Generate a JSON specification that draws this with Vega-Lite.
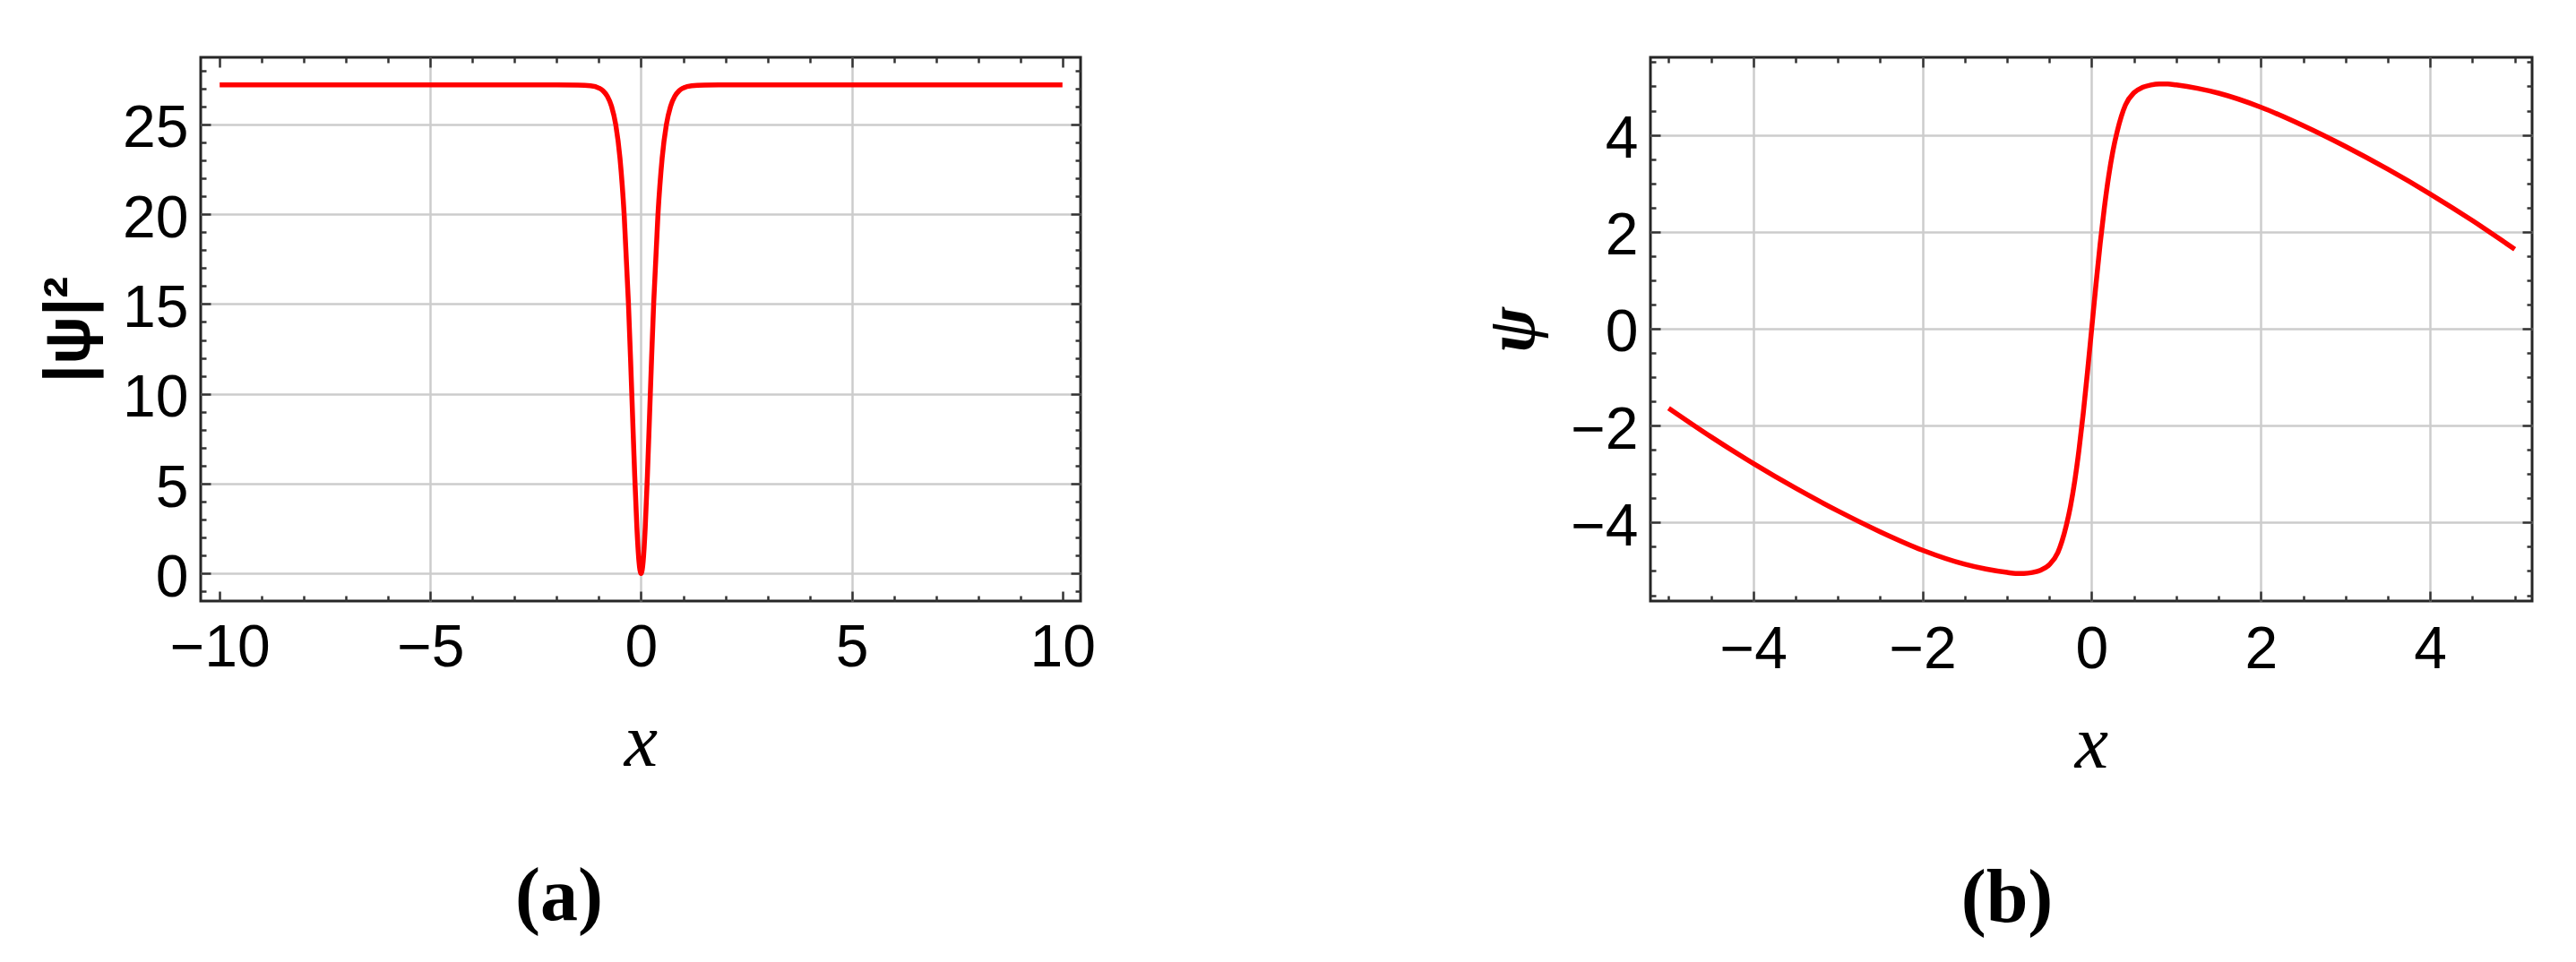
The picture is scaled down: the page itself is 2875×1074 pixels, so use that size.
{
  "$schema": "https://vega.github.io/schema/vega-lite/v6.json",
  "background": "white",
  "padding": {"left": 40, "top": 61, "right": 10, "bottom": 0},
  "spacing": 636,
  "bounds": "flush",
  "config": {
    "view": {"stroke": "#262626", "strokeWidth": 3},
    "axis": {
      "domain": false,
      "labelFont": "Liberation Sans",
      "labelFontSize": 66,
      "labelColor": "#000000",
      "tickColor": "#333333",
      "tickWidth": 2.5,
      "gridColor": "#cccccc",
      "gridWidth": 2.5,
      "labelOverlap": false,
      "labelFlush": false,
      "labelBound": false,
      "titleColor": "#000000"
    }
  },
  "hconcat": [
    {
      "width": 982,
      "height": 607,
      "title": {"text": "(a)", "orient": "bottom", "anchor": "middle", "frame": "group", "font": "Liberation Serif", "fontSize": 84, "fontWeight": "bold", "color": "#000000", "dx": -91, "offset": 90},
      "data": {"values": [
        {"x": -10, "y": 27.2}, {"x": -3, "y": 27.2}, {"x": -2, "y": 27.2}, {"x": -1.5, "y": 27.19}, {"x": -1.2, "y": 27.15},
        {"x": -1, "y": 27.02}, {"x": -0.9, "y": 26.86}, {"x": -0.8, "y": 26.56}, {"x": -0.7, "y": 26.0}, {"x": -0.6, "y": 24.97},
        {"x": -0.5, "y": 23.11}, {"x": -0.4, "y": 19.94}, {"x": -0.3, "y": 15.07}, {"x": -0.25, "y": 11.99}, {"x": -0.2, "y": 8.68},
        {"x": -0.15, "y": 5.42}, {"x": -0.1, "y": 2.61}, {"x": -0.05, "y": 0.68}, {"x": 0, "y": 0},
        {"x": 0.05, "y": 0.68}, {"x": 0.1, "y": 2.61}, {"x": 0.15, "y": 5.42}, {"x": 0.2, "y": 8.68}, {"x": 0.25, "y": 11.99},
        {"x": 0.3, "y": 15.07}, {"x": 0.4, "y": 19.94}, {"x": 0.5, "y": 23.11}, {"x": 0.6, "y": 24.97}, {"x": 0.7, "y": 26.0},
        {"x": 0.8, "y": 26.56}, {"x": 0.9, "y": 26.86}, {"x": 1, "y": 27.02}, {"x": 1.2, "y": 27.15}, {"x": 1.5, "y": 27.19},
        {"x": 2, "y": 27.2}, {"x": 3, "y": 27.2}, {"x": 10, "y": 27.2}
      ]},
      "layer": [
        {
          "mark": {"type": "line", "color": "#ff0000", "strokeWidth": 5.5, "interpolate": "monotone"},
          "encoding": {
            "x": {"field": "x", "type": "quantitative", "scale": {"domain": [-10.45, 10.43], "nice": false, "zero": false},
              "axis": {"orient": "bottom", "values": [-10, -5, 0, 5, 10], "format": "d", "ticks": false, "labelPadding": 20, "grid": true,
                "gridOpacity": {"condition": {"test": "abs(datum.value) === 10", "value": 0}, "value": 1},
                "title": "x", "titleFont": "Liberation Serif", "titleFontStyle": "italic", "titleFontWeight": "normal", "titleFontSize": 84, "titlePadding": 32}},
            "y": {"field": "y", "type": "quantitative", "scale": {"domain": [-1.53, 28.73], "nice": false, "zero": false},
              "axis": {"orient": "left", "values": [0, 5, 10, 15, 20, 25], "format": "d", "ticks": false, "labelPadding": 14, "labelOffset": 5, "grid": true,
                "title": "|ψ|²", "titleFont": "Liberation Sans", "titleFontWeight": "bold", "titleFontSize": 72, "titlePadding": 22}}
          }
        },
        {
          "mark": {"type": "line", "opacity": 0},
          "encoding": {
            "x": {"field": "x", "type": "quantitative", "scale": {"domain": [-10.45, 10.43], "nice": false, "zero": false},
              "axis": {"orient": "bottom", "values": [-10, -9, -8, -7, -6, -5, -4, -3, -2, -1, 0, 1, 2, 3, 4, 5, 6, 7, 8, 9, 10], "labels": false, "grid": false, "title": null,
                "tickSize": {"condition": {"test": "datum.value % 5 === 0", "value": -11}, "value": -6}}},
            "y": {"field": "y", "type": "quantitative", "scale": {"domain": [-1.53, 28.73], "nice": false, "zero": false},
              "axis": {"orient": "left", "values": [-1, 0, 1, 2, 3, 4, 5, 6, 7, 8, 9, 10, 11, 12, 13, 14, 15, 16, 17, 18, 19, 20, 21, 22, 23, 24, 25, 26, 27, 28], "labels": false, "grid": false, "title": null,
                "tickSize": {"condition": {"test": "datum.value % 5 === 0", "value": -11}, "value": -6}}}
          }
        },
        {
          "mark": {"type": "line", "opacity": 0},
          "encoding": {
            "x": {"field": "x", "type": "quantitative", "scale": {"domain": [-10.45, 10.43], "nice": false, "zero": false},
              "axis": {"orient": "top", "values": [-10, -9, -8, -7, -6, -5, -4, -3, -2, -1, 0, 1, 2, 3, 4, 5, 6, 7, 8, 9, 10], "labels": false, "grid": false, "title": null,
                "tickSize": {"condition": {"test": "datum.value % 5 === 0", "value": -11}, "value": -6}}},
            "y": {"field": "y", "type": "quantitative", "scale": {"domain": [-1.53, 28.73], "nice": false, "zero": false},
              "axis": {"orient": "right", "values": [-1, 0, 1, 2, 3, 4, 5, 6, 7, 8, 9, 10, 11, 12, 13, 14, 15, 16, 17, 18, 19, 20, 21, 22, 23, 24, 25, 26, 27, 28], "labels": false, "grid": false, "title": null,
                "tickSize": {"condition": {"test": "datum.value % 5 === 0", "value": -11}, "value": -6}}}
          }
        }
      ],
      "resolve": {"axis": {"x": "independent", "y": "independent"}}
    },
    {
      "width": 984,
      "height": 607,
      "title": {"text": "(b)", "orient": "bottom", "anchor": "middle", "frame": "group", "font": "Liberation Serif", "fontSize": 84, "fontWeight": "bold", "color": "#000000", "dx": -94, "offset": 90},
      "data": {"values": [
        {"x": -5, "y": -1.64}, {"x": -4.5, "y": -2.23}, {"x": -4, "y": -2.78}, {"x": -3.5, "y": -3.29}, {"x": -3, "y": -3.76},
        {"x": -2.5, "y": -4.19}, {"x": -2, "y": -4.57}, {"x": -1.5, "y": -4.86}, {"x": -1.25, "y": -4.96}, {"x": -1, "y": -5.03},
        {"x": -0.9, "y": -5.05}, {"x": -0.8, "y": -5.05}, {"x": -0.7, "y": -5.03}, {"x": -0.6, "y": -4.98}, {"x": -0.5, "y": -4.87},
        {"x": -0.4, "y": -4.62}, {"x": -0.35, "y": -4.38}, {"x": -0.3, "y": -4.06}, {"x": -0.25, "y": -3.66}, {"x": -0.2, "y": -3.14},
        {"x": -0.15, "y": -2.5}, {"x": -0.1, "y": -1.75}, {"x": -0.05, "y": -0.9}, {"x": 0, "y": 0},
        {"x": 0.05, "y": 0.9}, {"x": 0.1, "y": 1.75}, {"x": 0.15, "y": 2.5}, {"x": 0.2, "y": 3.14}, {"x": 0.25, "y": 3.66},
        {"x": 0.3, "y": 4.06}, {"x": 0.35, "y": 4.38}, {"x": 0.4, "y": 4.62}, {"x": 0.5, "y": 4.87}, {"x": 0.6, "y": 4.98},
        {"x": 0.7, "y": 5.03}, {"x": 0.8, "y": 5.05}, {"x": 0.9, "y": 5.05}, {"x": 1, "y": 5.03}, {"x": 1.25, "y": 4.96},
        {"x": 1.5, "y": 4.86}, {"x": 2, "y": 4.57}, {"x": 2.5, "y": 4.19}, {"x": 3, "y": 3.76}, {"x": 3.5, "y": 3.29},
        {"x": 4, "y": 2.78}, {"x": 4.5, "y": 2.23}, {"x": 5, "y": 1.64}
      ]},
      "layer": [
        {
          "mark": {"type": "line", "color": "#ff0000", "strokeWidth": 5.5, "interpolate": "monotone"},
          "encoding": {
            "x": {"field": "x", "type": "quantitative", "scale": {"domain": [-5.215, 5.205], "nice": false, "zero": false},
              "axis": {"orient": "bottom", "values": [-4, -2, 0, 2, 4], "format": "d", "ticks": false, "labelPadding": 22, "grid": true,
                "title": "x", "titleFont": "Liberation Serif", "titleFontStyle": "italic", "titleFontWeight": "normal", "titleFontSize": 84, "titlePadding": 32}},
            "y": {"field": "y", "type": "quantitative", "scale": {"domain": [-5.62, 5.6], "nice": false, "zero": false},
              "axis": {"orient": "left", "values": [-4, -2, 0, 2, 4], "format": "d", "ticks": false, "labelPadding": 14, "labelOffset": 5, "grid": true,
                "title": "ψ", "titleFont": "Liberation Serif", "titleFontStyle": "italic", "titleFontWeight": "bold", "titleFontSize": 76, "titlePadding": 25}}
          }
        },
        {
          "mark": {"type": "line", "opacity": 0},
          "encoding": {
            "x": {"field": "x", "type": "quantitative", "scale": {"domain": [-5.215, 5.205], "nice": false, "zero": false},
              "axis": {"orient": "bottom", "values": [-5, -4.5, -4, -3.5, -3, -2.5, -2, -1.5, -1, -0.5, 0, 0.5, 1, 1.5, 2, 2.5, 3, 3.5, 4, 4.5, 5], "labels": false, "grid": false, "title": null,
                "tickSize": {"condition": {"test": "datum.value % 2 === 0", "value": -11}, "value": -6}}},
            "y": {"field": "y", "type": "quantitative", "scale": {"domain": [-5.62, 5.6], "nice": false, "zero": false},
              "axis": {"orient": "left", "values": [-5.5, -5, -4.5, -4, -3.5, -3, -2.5, -2, -1.5, -1, -0.5, 0, 0.5, 1, 1.5, 2, 2.5, 3, 3.5, 4, 4.5, 5, 5.5], "labels": false, "grid": false, "title": null,
                "tickSize": {"condition": {"test": "datum.value % 2 === 0", "value": -11}, "value": -6}}}
          }
        },
        {
          "mark": {"type": "line", "opacity": 0},
          "encoding": {
            "x": {"field": "x", "type": "quantitative", "scale": {"domain": [-5.215, 5.205], "nice": false, "zero": false},
              "axis": {"orient": "top", "values": [-5, -4.5, -4, -3.5, -3, -2.5, -2, -1.5, -1, -0.5, 0, 0.5, 1, 1.5, 2, 2.5, 3, 3.5, 4, 4.5, 5], "labels": false, "grid": false, "title": null,
                "tickSize": {"condition": {"test": "datum.value % 2 === 0", "value": -11}, "value": -6}}},
            "y": {"field": "y", "type": "quantitative", "scale": {"domain": [-5.62, 5.6], "nice": false, "zero": false},
              "axis": {"orient": "right", "values": [-5.5, -5, -4.5, -4, -3.5, -3, -2.5, -2, -1.5, -1, -0.5, 0, 0.5, 1, 1.5, 2, 2.5, 3, 3.5, 4, 4.5, 5, 5.5], "labels": false, "grid": false, "title": null,
                "tickSize": {"condition": {"test": "datum.value % 2 === 0", "value": -11}, "value": -6}}}
          }
        }
      ],
      "resolve": {"axis": {"x": "independent", "y": "independent"}}
    }
  ]
}
